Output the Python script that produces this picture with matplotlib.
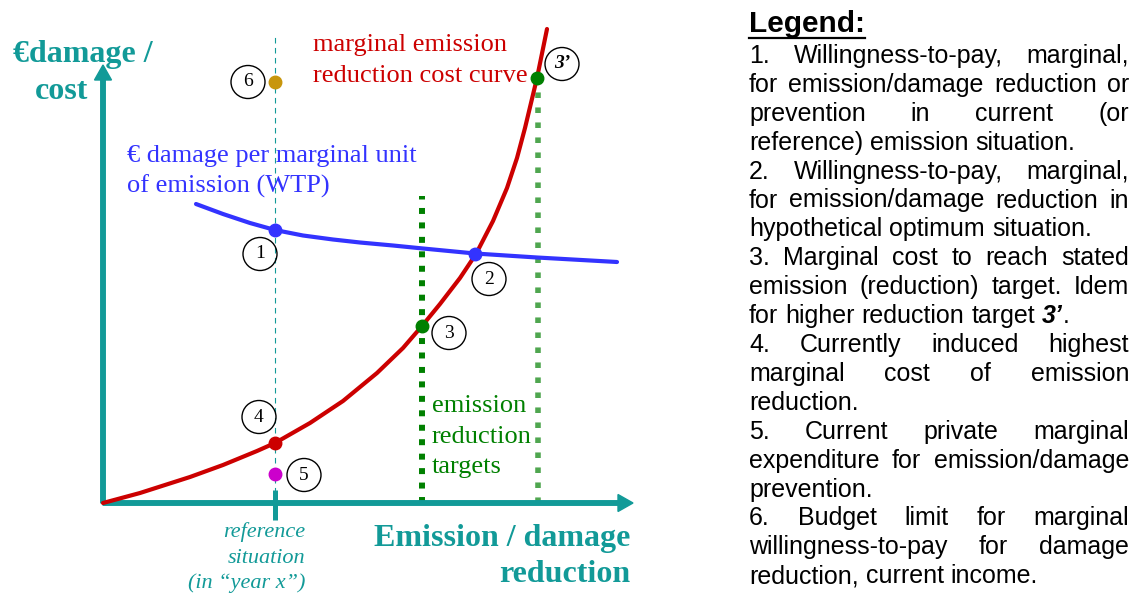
import matplotlib
matplotlib.use("Agg")
import matplotlib.pyplot as plt
from matplotlib.patches import Ellipse

# diagram units = pixels measured from the axes origin (x right, y up)
red_x = [0, 37, 87, 120, 154, 172, 207, 240, 274, 300, 319, 337, 357, 373, 390, 404, 414, 422, 428, 434, 444]
red_y = [0, 10, 26, 38, 52, 60, 80, 102, 130, 155, 177, 199, 225, 249, 282, 315, 345, 375, 400, 425, 474]

blue_x = [93, 120, 147, 172, 200, 230, 257, 290, 320, 372, 434, 514]
blue_y = [299, 289, 280, 273, 267.5, 263.5, 260.5, 257.5, 254.5, 249.5, 245.5, 241]

# numbered points: 1, 2, 3, 3', 4, 5, 6
pt_labels = ["1", "2", "3", "3’", "4", "5", "6"]
pt_x = [172, 372, 319, 434, 172, 172, 172]
pt_y = [273, 249.5, 177, 425, 60, 29, 421]
pt_colors = ["#3333ff", "#3333ff", "#008000", "#008000", "#cc0000", "#cc00cc", "#c8960c"]
lab_x = [157, 386, 346, 459, 156, 201, 145]
lab_y = [249, 224, 170, 439, 86, 28, 421]

ref_x = 172          # reference situation
target_x = [319, 435]
target_top = [307, 418]

legend_lines = [
    ("1. Willingness-to-pay, marginal,", True),
    ("for emission/damage reduction or", True),
    ("prevention in current (or", True),
    ("reference) emission situation.", False),
    ("2. Willingness-to-pay, marginal,", True),
    ("for emission/damage reduction in", True),
    ("hypothetical optimum situation.", False),
    ("3. Marginal cost to reach stated", True),
    ("emission (reduction) target. Idem", True),
    ("for higher reduction target *3’*.", False),
    ("4. Currently induced highest", True),
    ("marginal cost of emission", True),
    ("reduction.", False),
    ("5. Current private marginal", True),
    ("expenditure for emission/damage", True),
    ("prevention.", False),
    ("6. Budget limit for marginal", True),
    ("willingness-to-pay for damage", True),
    ("reduction, current income.", False),
]

TEAL = "#129a98"
RED = "#cc0000"
BLUE = "#3333ff"
GREEN = "#008000"
SERIF = ["Liberation Serif", "DejaVu Serif"]
SANS = ["Liberation Sans", "DejaVu Sans"]

fig = plt.figure(figsize=(11.38, 5.96), dpi=100)
ax = fig.add_axes([0, 0, 1, 1])
ax.set_xlim(-103, 1035)
ax.set_ylim(-93, 503)
ax.axis("off")

# axes arrows
ax.arrow(0, 0, 0, 438, width=4.5, head_width=17, head_length=15,
         length_includes_head=True, color=TEAL, zorder=2)
ax.arrow(0, 0, 530, 0, width=4.5, head_width=17, head_length=15,
         length_includes_head=True, color=TEAL, zorder=2)

# reference situation marker
ax.plot([ref_x, ref_x], [0, 466], color=TEAL, lw=0.8, linestyle=(0, (5, 4)), zorder=1)
ax.plot([ref_x, ref_x], [13, -17], color=TEAL, lw=3.6, solid_capstyle="butt", zorder=2)

# emission reduction targets
ax.plot([target_x[0]] * 2, [0, target_top[0]], color=GREEN, lw=4.3,
        linestyle=(0, (1, 1.42)), dash_capstyle="butt", zorder=1)
ax.plot([target_x[1]] * 2, [0, target_top[1]], color="#4fa64f", lw=4.0,
        linestyle=(0, (1, 1.7)), dash_capstyle="butt", zorder=1)

ax.plot(red_x, red_y, color=RED, lw=3, solid_capstyle="round",
        solid_joinstyle="round", zorder=3)
ax.plot(blue_x, blue_y, color=BLUE, lw=3, solid_capstyle="round",
        solid_joinstyle="round", zorder=3)

for x, y, c in zip(pt_x, pt_y, pt_colors):
    ax.plot(x, y, "o", color=c, ms=9, zorder=4)

for s, x, y in zip(pt_labels, lab_x, lab_y):
    ax.add_patch(Ellipse((x, y), 34, 33, fill=False, ec="black", lw=1.0, zorder=4))
    if s == "3’":
        ax.text(x, y, s, fontsize=14, family=SERIF, weight="bold", style="italic",
                ha="center", va="center", zorder=5)
    else:
        ax.text(x, y, s, fontsize=14, family=SERIF, ha="center", va="center", zorder=5)

# diagram texts
ax.text(-90, 441, "€damage /", fontsize=23, weight="bold", family=SERIF, color=TEAL, va="baseline")
ax.text(-68, 404, "cost", fontsize=23, weight="bold", family=SERIF, color=TEAL, va="baseline")
ax.text(210, 452, "marginal emission", fontsize=19, family=SERIF, color=RED, va="baseline")
ax.text(210, 421, "reduction cost curve", fontsize=19, family=SERIF, color=RED, va="baseline")
ax.text(24, 341, "€ damage per marginal unit", fontsize=19, family=SERIF, color=BLUE, va="baseline")
ax.text(24, 310, "of emission (WTP)", fontsize=19, family=SERIF, color=BLUE, va="baseline")
for s, y in zip(["emission", "reduction", "targets"], [91, 60, 30]):
    ax.text(329, y, s, fontsize=19, family=SERIF, color=GREEN, va="baseline")
for s, y in zip(["reference", "situation", "(in “year x”)"], [-34, -60, -85]):
    ax.text(202, y, s, fontsize=16, family=SERIF, style="italic", color=TEAL,
            ha="right", va="baseline")
ax.text(527, -43, "Emission / damage", fontsize=23, weight="bold", family=SERIF,
        color=TEAL, ha="right", va="baseline")
ax.text(527, -79, "reduction", fontsize=23, weight="bold", family=SERIF,
        color=TEAL, ha="right", va="baseline")

# legend block (justified text)
renderer = fig.canvas.get_renderer()
L, R = 646, 1026
FS = 18


def width(s, **kw):
    t = ax.text(0, 0, s, fontsize=FS, family=SANS, **kw)
    w = t.get_window_extent(renderer).width
    t.remove()
    return w


def segments(word):
    # "*3’*." -> [("3’", bold italic), (".", normal)]
    if word.startswith("*"):
        inner, rest = word[1:].split("*", 1)
        segs = [(inner, {"weight": "bold", "style": "italic"})]
        if rest:
            segs.append((rest, {}))
        return segs
    return [(word, {})]


leg = ax.text(L, 471, "Legend:", fontsize=21.5, weight="bold", family=SANS, va="baseline")
lw_ = leg.get_window_extent(renderer).width
ax.plot([L, L + lw_], [465, 465], color="black", lw=1.6)

space = width("a a") - width("aa")
for i, (line, just) in enumerate(legend_lines):
    y = 503 - (63 + 28.9 * i)
    words = [segments(w) for w in line.split()]
    widths = [sum(width(s, **kw) for s, kw in segs) for segs in words]
    gap = space
    if just and len(words) > 1:
        gap = (R - L - sum(widths)) / (len(words) - 1)
    x = L
    for segs, w in zip(words, widths):
        xx = x
        for s, kw in segs:
            ax.text(xx, y, s, fontsize=FS, family=SANS, va="baseline", **kw)
            xx += width(s, **kw)
        x += w + gap

fig.savefig("out.png", dpi=100)
